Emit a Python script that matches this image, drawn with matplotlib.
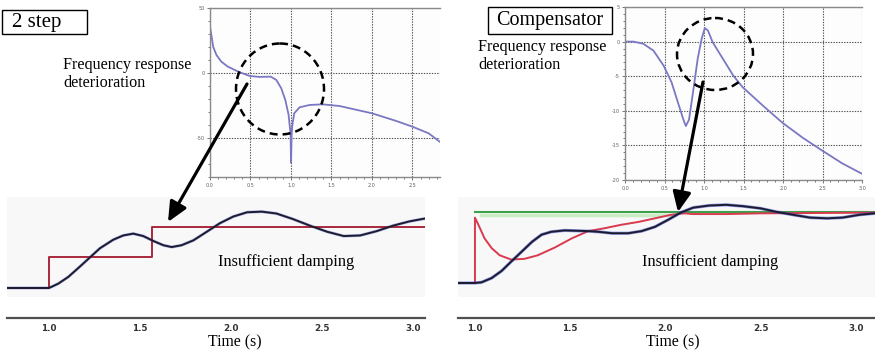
import matplotlib
matplotlib.use("Agg")
import matplotlib.pyplot as plt
from matplotlib.patches import Ellipse, Rectangle, FancyArrowPatch, ArrowStyle

# ---------------- data ----------------
# Frequency response, "2 step" (top left)
fr2_x = [0.0, 0.02, 0.04, 0.08, 0.14, 0.22, 0.35, 0.49, 0.61, 0.75, 0.82, 0.88,
         0.93, 0.97, 0.995, 1.0, 1.008, 1.015, 1.04, 1.106, 1.23, 1.39, 1.6,
         2.0, 2.29, 2.5, 2.7, 2.84]
fr2_y = [35.6, 28, 20, 13.8, 8.7, 4.9, 1.0, -2.3, -3.0, -2.8, -5.4, -11.8,
         -20.8, -32, -47, -69, -48, -41, -31, -26.4, -24.6, -24.1, -25.4,
         -31, -36.7, -41.3, -46.4, -53]
fr2_xticks = [0.0, 0.5, 1.0, 1.5, 2.0, 2.5]
fr2_yticks = [50, 0, -50]

# Frequency response, "Compensator" (top right)
frc_x = [0.0, 0.105, 0.23, 0.36, 0.49, 0.59, 0.67, 0.74, 0.77, 0.81, 0.86, 0.92,
         0.97, 1.01, 1.05, 1.11, 1.24, 1.37, 1.49, 1.75, 1.99, 2.25, 2.49, 2.75, 3.0]
frc_y = [0.0, 0.0, -0.3, -1.3, -3.5, -5.9, -8.8, -11.3, -12.2, -11.3, -7.4, -2.5,
         0.4, 1.95, 1.6, -0.1, -2.5, -4.9, -6.6, -9.3, -11.7, -13.9, -15.7, -17.6, -19.1]
frc_xticks = [0.0, 0.5, 1.0, 1.5, 2.0, 2.5, 3.0]
frc_yticks = [5, 0, -5, -10, -15, -20]

# Time axis
time_ticks = [1.0, 1.5, 2.0, 2.5, 3.0]
time_labels = ["1.0", "1.5", "2.0", "2.5", "3.0"]

# Step response, "2 step" (bottom left)
s2_ref_t = [0.77, 1.0, 1.0, 1.57, 1.57, 3.07]
s2_ref_y = [0.0, 0.0, 0.51, 0.51, 1.0, 1.0]
s2_out_t = [0.77, 1.0, 1.01, 1.053, 1.108, 1.172, 1.227, 1.282, 1.355, 1.41, 1.465,
            1.52, 1.575, 1.63, 1.676, 1.73, 1.795, 1.868, 1.94, 2.014, 2.09, 2.17,
            2.25, 2.34, 2.435, 2.53, 2.62, 2.71, 2.80, 2.89, 2.98, 3.07]
s2_out_y = [0.0, 0.0, 0.01, 0.07, 0.18, 0.35, 0.50, 0.65, 0.79, 0.86, 0.89,
            0.85, 0.77, 0.70, 0.67, 0.70, 0.78, 0.92, 1.06, 1.17, 1.24, 1.25,
            1.22, 1.13, 1.02, 0.92, 0.85, 0.86, 0.93, 1.02, 1.09, 1.14]

# Step response, "Compensator" (bottom right)
sc_ref_t = [1.0, 3.1]
sc_ref_y = [1.0, 1.0]
sc_band_t = [1.03, 2.05]
sc_band_y = [0.95, 0.95]
sc_cmd_t = [0.91, 1.0, 1.0, 1.018, 1.05, 1.088, 1.13, 1.19, 1.26, 1.33, 1.42, 1.51,
            1.595, 1.68, 1.77, 1.86, 1.945, 2.03, 2.10, 2.145, 2.32, 2.5, 3.1]
sc_cmd_y = [0.0, 0.0, 0.92, 0.82, 0.63, 0.49, 0.39, 0.33, 0.34, 0.39, 0.50, 0.63,
            0.73, 0.77, 0.82, 0.86, 0.91, 0.96, 0.98, 0.97, 0.97, 0.98, 0.99]
sc_out_t = [0.91, 1.0, 1.035, 1.088, 1.14, 1.19, 1.245, 1.30, 1.35, 1.40, 1.47, 1.595,
            1.65, 1.72, 1.805, 1.875, 1.945, 2.015, 2.08, 2.146, 2.23, 2.32, 2.41,
            2.50, 2.585, 2.67, 2.76, 2.85, 2.93, 3.02, 3.1]
sc_out_y = [0.0, 0.0, 0.01, 0.07, 0.17, 0.30, 0.44, 0.58, 0.68, 0.72, 0.74, 0.73,
            0.72, 0.70, 0.70, 0.73, 0.79, 0.89, 0.99, 1.06, 1.09, 1.10, 1.08,
            1.05, 1.00, 0.96, 0.92, 0.91, 0.92, 0.96, 0.98]

# ---------------- figure ----------------
W, H = 875, 361
fig = plt.figure(figsize=(W / 100, H / 100), dpi=100)
fig.patch.set_facecolor("white")
SERIF = ["Liberation Serif", "DejaVu Serif"]


def rect(x0, y0, x1, y1):
    return [x0 / W, 1 - y1 / H, (x1 - x0) / W, (y1 - y0) / H]


def freq_axes(ax, x, y, xlim, ylim, xticks, yticks, yminor_step):
    ax.plot(x, y, color="#7a78c2", lw=1.3, solid_joinstyle="round")
    ax.set_xlim(*xlim)
    ax.set_ylim(*ylim)
    ax.set_xticks(xticks)
    ax.set_xticklabels([f"{v:.1f}" for v in xticks])
    ax.set_yticks(yticks)
    ax.set_yticklabels([str(v) for v in yticks])
    mx = [round(i * 0.1, 2) for i in range(int(xlim[1] / 0.1) + 1)]
    ax.set_xticks(mx, minor=True)
    lo, hi = ylim
    my = []
    v = hi
    while v >= lo - 1e-9:
        my.append(v)
        v -= yminor_step
    ax.set_yticks(my, minor=True)
    ax.grid(which="major", linestyle=(0, (1.2, 1.2)), color="#505050", lw=0.8)
    for s in ["top", "left", "bottom"]:
        ax.spines[s].set_color("#8a8a8a")
        ax.spines[s].set_linewidth(1.0)
    ax.spines["right"].set_visible(False)
    ax.tick_params(which="both", labelsize=3.5, colors="#606060", length=2,
                   width=0.6, pad=2, direction="out")
    ax.tick_params(which="minor", length=1.5)
    ax.set_facecolor("#fdfdfd")


axTL = fig.add_axes(rect(210, 8, 440, 177))
freq_axes(axTL, fr2_x, fr2_y, (0, 2.84), (-80, 50), fr2_xticks, fr2_yticks, 10)
axTR = fig.add_axes(rect(625, 7, 862, 180))
freq_axes(axTR, frc_x, frc_y, (0, 3.0), (-20, 5), frc_xticks, frc_yticks, 1)


def time_axes(rect_plot, rect_strip, xlim, ylim):
    ax = fig.add_axes(rect_plot)
    ax.set_facecolor("#f8f8f8")
    ax.set_xlim(*xlim)
    ax.set_ylim(*ylim)
    ax.set_xticks([])
    ax.set_yticks([])
    for s in ax.spines.values():
        s.set_visible(False)
    axs = fig.add_axes(rect_strip)
    axs.set_facecolor("none")
    axs.set_xlim(*xlim)
    axs.set_yticks([])
    for s in ["top", "left", "right"]:
        axs.spines[s].set_visible(False)
    axs.spines["bottom"].set_color("#505050")
    axs.spines["bottom"].set_linewidth(1.6)
    axs.set_xticks(time_ticks)
    axs.set_xticklabels(time_labels, fontsize=6.3, fontweight="bold",
                        color="#333333", family=["DejaVu Sans"])
    axs.tick_params(axis="x", length=0, pad=4)
    return ax


axBL = time_axes(rect(7, 197, 425, 297), rect(7, 300, 425, 318),
                 (0.772, 3.066), (-0.148, 1.49))
axBL.plot(s2_ref_t, s2_ref_y, color="#a8283c", lw=1.4, zorder=3)
axBL.plot(s2_out_t, s2_out_y, color="#4a5ad0", lw=2.2, alpha=0.4, zorder=2)
axBL.plot(s2_out_t, s2_out_y, color="#1c1c30", lw=1.4, zorder=4)

axBR = time_axes(rect(458, 197, 875, 297), rect(458, 300, 875, 318),
                 (0.911, 3.101), (-0.197, 1.21))
axBR.plot(sc_band_t, sc_band_y, color="#c8eec4", lw=2.5, zorder=1)
axBR.plot(sc_ref_t, sc_ref_y, color="#3ea04a", lw=1.5, zorder=2)
axBR.plot(sc_cmd_t, sc_cmd_y, color="#d83a4e", lw=1.4, zorder=3)
axBR.plot(sc_out_t, sc_out_y, color="#3c48d0", lw=2.3, alpha=0.55, zorder=4)
axBR.plot(sc_out_t, sc_out_y, color="#1c1c30", lw=1.4, zorder=5)

# ---------------- annotation layer ----------------
ov = fig.add_axes([0, 0, 1, 1], zorder=20)
ov.set_xlim(0, W)
ov.set_ylim(H, 0)
ov.axis("off")
ov.patch.set_alpha(0)

for (x0, y0, x1, y1) in [(2, 10, 87, 34), (488, 7, 612, 34)]:
    ov.add_patch(Rectangle((x0, y0), x1 - x0, y1 - y0, fill=True, facecolor="white",
                           edgecolor="black", lw=1.0))
ov.text(12, 23, "2 step", fontsize=15, family=SERIF, va="center", ha="left")
ov.text(550, 21, "Compensator", fontsize=14.5, family=SERIF, va="center", ha="center")

ov.text(63, 57, "Frequency response\ndeterioration", fontsize=11.6, family=SERIF,
        va="top", ha="left", linespacing=1.15)
ov.text(478, 39, "Frequency response\ndeterioration", fontsize=11.6, family=SERIF,
        va="top", ha="left", linespacing=1.15)

ov.text(218, 262, "Insufficient damping", fontsize=11.7, family=SERIF,
        va="center", ha="left")
ov.text(642, 262, "Insufficient damping", fontsize=11.7, family=SERIF,
        va="center", ha="left")
ov.text(235, 342, "Time (s)", fontsize=11.3, family=SERIF, va="center", ha="center")
ov.text(673, 342, "Time (s)", fontsize=11.3, family=SERIF, va="center", ha="center")

for (cx, cy, w, h) in [(280, 89, 88, 91), (715, 54, 76, 72)]:
    ov.add_patch(Ellipse((cx, cy), w, h, fill=False, edgecolor="black", lw=1.8,
                         linestyle=(0, (3.2, 2.0))))

style = ArrowStyle("-|>", head_length=12, head_width=5.5)
for (p0, p1) in [((247, 84), (168, 222)), ((703, 82), (678, 212))]:
    ov.add_patch(FancyArrowPatch(p0, p1, arrowstyle=style, mutation_scale=1,
                                 color="black", lw=2.3, shrinkA=0, shrinkB=0))

fig.savefig("out.png", dpi=100)
